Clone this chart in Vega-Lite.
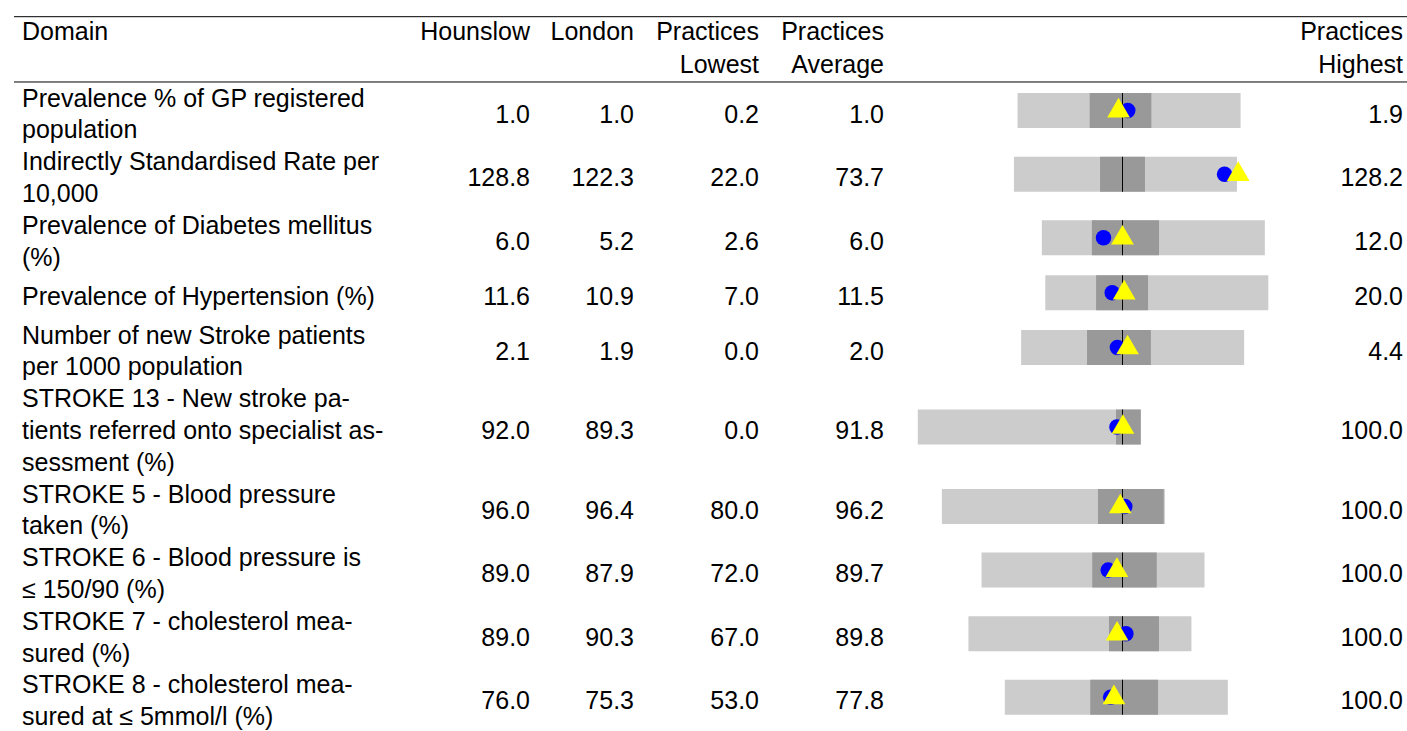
{
  "$schema": "https://vega.github.io/schema/vega-lite/v6.json",
  "padding": {"left": 13, "top": 0, "right": 0, "bottom": 0},
  "spacing": 0,
  "bounds": "flush",
  "config": {
    "view": {"stroke": null},
    "text": {"font": "Liberation Sans", "fontSize": 25, "fill": "black", "baseline": "alphabetic", "lineHeight": 32.5}
  },
  "data": {"values": [
    {"id": 1, "domain": ["Prevalence % of GP registered", "population"], "hounslow": 0.97, "london": 1.04, "low": 0.2, "avg": 1.0, "high": 1.9, "q1": 0.75, "q3": 1.22},
    {"id": 2, "domain": ["Indirectly Standardised Rate per", "10,000"], "hounslow": 128.8, "london": 122.3, "low": 22.0, "avg": 73.7, "high": 128.2, "q1": 63.0, "q3": 84.4},
    {"id": 3, "domain": ["Prevalence of Diabetes mellitus", "(%)"], "hounslow": 6.0, "london": 5.2, "low": 2.6, "avg": 6.0, "high": 12.0, "q1": 4.71, "q3": 7.54},
    {"id": 4, "domain": ["Prevalence of Hypertension (%)"], "hounslow": 11.6, "london": 10.9, "low": 7.0, "avg": 11.5, "high": 20.0, "q1": 9.96, "q3": 12.99},
    {"id": 5, "domain": ["Number of new Stroke patients", "per 1000 population"], "hounslow": 2.1, "london": 1.9, "low": 0.0, "avg": 2.0, "high": 4.4, "q1": 1.3, "q3": 2.56},
    {"id": 6, "domain": ["STROKE 13 - New stroke pa-", "tients referred onto specialist as-", "sessment (%)"], "hounslow": 92.0, "london": 89.3, "low": 0.0, "avg": 91.8, "high": 100.0, "q1": 88.9, "q3": 100.0},
    {"id": 7, "domain": ["STROKE 5 - Blood pressure", "taken (%)"], "hounslow": 96.0, "london": 96.4, "low": 80.0, "avg": 96.2, "high": 100.0, "q1": 94.0, "q3": 99.9},
    {"id": 8, "domain": ["STROKE 6 - Blood pressure is", "≤ 150/90 (%)"], "hounslow": 89.0, "london": 87.9, "low": 72.0, "avg": 89.7, "high": 100.0, "q1": 85.9, "q3": 94.0},
    {"id": 9, "domain": ["STROKE 7 - cholesterol mea-", "sured (%)"], "hounslow": 89.0, "london": 90.3, "low": 67.0, "avg": 89.8, "high": 100.0, "q1": 87.8, "q3": 95.2},
    {"id": 10, "domain": ["STROKE 8 - cholesterol mea-", "sured at ≤ 5mmol/l (%)"], "hounslow": 76.0, "london": 75.3, "low": 53.0, "avg": 77.8, "high": 100.0, "q1": 71.0, "q3": 85.3}
  ]},
  "transform": [
    {"flatten": ["domain"], "as": ["dline"]},
    {"window": [{"op": "row_number", "as": "line"}], "sort": [{"field": "id"}]},
    {"joinaggregate": [{"op": "count", "as": "n"}], "groupby": ["id"]},
    {"window": [{"op": "row_number", "as": "k"}], "groupby": ["id"], "sort": [{"field": "line"}]},
    {"calculate": "datum.n == 1 && datum.k == 1 ? 0.45 : 0", "as": "extra"},
    {"window": [{"op": "sum", "field": "extra", "as": "cum"}], "sort": [{"field": "line"}], "frame": [null, 0]},
    {"calculate": "datum.line + datum.cum - datum.extra / 2", "as": "pos"},
    {"joinaggregate": [{"op": "mean", "field": "pos", "as": "mid"}], "groupby": ["id"]},
    {"calculate": "(datum.low - datum.avg) / (datum.high - datum.low)", "as": "ln"},
    {"calculate": "(datum.high - datum.avg) / (datum.high - datum.low)", "as": "hn"},
    {"calculate": "(datum.q1 - datum.avg) / (datum.high - datum.low)", "as": "q1n"},
    {"calculate": "(datum.q3 - datum.avg) / (datum.high - datum.low)", "as": "q3n"},
    {"calculate": "(datum.hounslow - datum.avg) / (datum.high - datum.low)", "as": "hon"},
    {"calculate": "(datum.london - datum.avg) / (datum.high - datum.low)", "as": "lon"}
  ],
  "hconcat": [
    {
      "width": 398, "height": 731,
      "layer": [
        {"data": {"values": [{}]}, "mark": {"type": "rule", "color": "black", "strokeWidth": 1}, "encoding": {"y": {"datum": -1.83, "type": "quantitative", "scale": {"domain": [-2.355, 20.632], "reverse": true, "nice": false, "zero": false}, "axis": null}}},
        {"data": {"values": [{}]}, "mark": {"type": "rule", "color": "black", "strokeWidth": 1}, "encoding": {"y": {"datum": 0.223, "type": "quantitative", "axis": null}}},
        {"data": {"values": [{}]}, "mark": {"type": "text", "text": "Domain", "align": "left", "x": 0, "dx": 8}, "encoding": {"y": {"datum": -1.097, "type": "quantitative", "axis": null}}},
        {"mark": {"type": "text", "align": "left", "x": 0, "dx": 8}, "encoding": {"y": {"field": "pos", "type": "quantitative", "axis": null}, "text": {"field": "dline", "type": "nominal"}}}
      ]
    },
    {
      "width": 118, "height": 731,
      "layer": [
        {"data": {"values": [{}]}, "mark": {"type": "rule", "color": "black", "strokeWidth": 1}, "encoding": {"y": {"datum": -1.83, "type": "quantitative", "scale": {"domain": [-2.355, 20.632], "reverse": true, "nice": false, "zero": false}, "axis": null}}},
        {"data": {"values": [{}]}, "mark": {"type": "rule", "color": "black", "strokeWidth": 1}, "encoding": {"y": {"datum": 0.223, "type": "quantitative", "axis": null}}},
        {"data": {"values": [{}]}, "mark": {"type": "text", "text": "Hounslow", "align": "right", "x": "width"}, "encoding": {"y": {"datum": -1.097, "type": "quantitative", "axis": null}}},
        {"transform": [{"filter": "datum.k == 1"}], "mark": {"type": "text", "align": "right", "x": "width"}, "encoding": {"y": {"field": "mid", "type": "quantitative", "axis": null}, "text": {"field": "hounslow", "type": "quantitative", "format": ".1f"}}}
      ]
    },
    {
      "width": 104, "height": 731,
      "layer": [
        {"data": {"values": [{}]}, "mark": {"type": "rule", "color": "black", "strokeWidth": 1}, "encoding": {"y": {"datum": -1.83, "type": "quantitative", "scale": {"domain": [-2.355, 20.632], "reverse": true, "nice": false, "zero": false}, "axis": null}}},
        {"data": {"values": [{}]}, "mark": {"type": "rule", "color": "black", "strokeWidth": 1}, "encoding": {"y": {"datum": 0.223, "type": "quantitative", "axis": null}}},
        {"data": {"values": [{}]}, "mark": {"type": "text", "text": "London", "align": "right", "x": "width"}, "encoding": {"y": {"datum": -1.097, "type": "quantitative", "axis": null}}},
        {"transform": [{"filter": "datum.k == 1"}], "mark": {"type": "text", "align": "right", "x": "width"}, "encoding": {"y": {"field": "mid", "type": "quantitative", "axis": null}, "text": {"field": "london", "type": "quantitative", "format": ".1f"}}}
      ]
    },
    {
      "width": 125, "height": 731,
      "layer": [
        {"data": {"values": [{}]}, "mark": {"type": "rule", "color": "black", "strokeWidth": 1}, "encoding": {"y": {"datum": -1.83, "type": "quantitative", "scale": {"domain": [-2.355, 20.632], "reverse": true, "nice": false, "zero": false}, "axis": null}}},
        {"data": {"values": [{}]}, "mark": {"type": "rule", "color": "black", "strokeWidth": 1}, "encoding": {"y": {"datum": 0.223, "type": "quantitative", "axis": null}}},
        {"data": {"values": [{}]}, "mark": {"type": "text", "text": ["Practices", "Lowest"], "align": "right", "x": "width"}, "encoding": {"y": {"datum": -1.097, "type": "quantitative", "axis": null}}},
        {"transform": [{"filter": "datum.k == 1"}], "mark": {"type": "text", "align": "right", "x": "width"}, "encoding": {"y": {"field": "mid", "type": "quantitative", "axis": null}, "text": {"field": "low", "type": "quantitative", "format": ".1f"}}}
      ]
    },
    {
      "width": 125, "height": 731,
      "layer": [
        {"data": {"values": [{}]}, "mark": {"type": "rule", "color": "black", "strokeWidth": 1}, "encoding": {"y": {"datum": -1.83, "type": "quantitative", "scale": {"domain": [-2.355, 20.632], "reverse": true, "nice": false, "zero": false}, "axis": null}}},
        {"data": {"values": [{}]}, "mark": {"type": "rule", "color": "black", "strokeWidth": 1}, "encoding": {"y": {"datum": 0.223, "type": "quantitative", "axis": null}}},
        {"data": {"values": [{}]}, "mark": {"type": "text", "text": ["Practices", "Average"], "align": "right", "x": "width"}, "encoding": {"y": {"datum": -1.097, "type": "quantitative", "axis": null}}},
        {"transform": [{"filter": "datum.k == 1"}], "mark": {"type": "text", "align": "right", "x": "width"}, "encoding": {"y": {"field": "mid", "type": "quantitative", "axis": null}, "text": {"field": "avg", "type": "quantitative", "format": ".1f"}}}
      ]
    },
    {
      "width": 407, "height": 731,
      "layer": [
        {"data": {"values": [{}]}, "mark": {"type": "rule", "color": "black", "strokeWidth": 1}, "encoding": {"y": {"datum": -1.83, "type": "quantitative", "scale": {"domain": [-2.355, 20.632], "reverse": true, "nice": false, "zero": false}, "axis": null}}},
        {"data": {"values": [{}]}, "mark": {"type": "rule", "color": "black", "strokeWidth": 1}, "encoding": {"y": {"datum": 0.223, "type": "quantitative", "axis": null}}},
        {"transform": [{"filter": "datum.k == 1"}], "mark": {"type": "rule", "color": "#cccccc", "strokeWidth": 35, "strokeCap": "butt", "yOffset": -12}, "encoding": {"x": {"field": "ln", "type": "quantitative", "scale": {"domain": [-1.0695, 0.7556], "nice": false, "zero": false}, "axis": null}, "x2": {"field": "hn"}, "y": {"field": "mid", "type": "quantitative", "axis": null}}},
        {"transform": [{"filter": "datum.k == 1"}], "mark": {"type": "rule", "color": "#999999", "strokeWidth": 35, "strokeCap": "butt", "yOffset": -12}, "encoding": {"x": {"field": "q1n", "type": "quantitative", "axis": null}, "x2": {"field": "q3n"}, "y": {"field": "mid", "type": "quantitative", "axis": null}}},
        {"transform": [{"filter": "datum.k == 1"}], "mark": {"type": "tick", "orient": "vertical", "color": "black", "size": 35, "thickness": 1, "opacity": 1, "yOffset": -12}, "encoding": {"x": {"datum": 0, "type": "quantitative", "axis": null}, "y": {"field": "mid", "type": "quantitative", "axis": null}}},
        {"transform": [{"filter": "datum.k == 1"}], "mark": {"type": "point", "shape": "circle", "filled": true, "color": "#0000ff", "opacity": 1, "size": 240, "yOffset": -12}, "encoding": {"x": {"field": "lon", "type": "quantitative", "axis": null}, "y": {"field": "mid", "type": "quantitative", "axis": null}}},
        {"transform": [{"filter": "datum.k == 1"}], "mark": {"type": "point", "shape": "triangle-up", "filled": true, "color": "#ffff00", "opacity": 1, "size": 515, "yOffset": -15}, "encoding": {"x": {"field": "hon", "type": "quantitative", "axis": null}, "y": {"field": "mid", "type": "quantitative", "axis": null}}}
      ]
    },
    {
      "width": 117, "height": 731,
      "layer": [
        {"data": {"values": [{}]}, "mark": {"type": "rule", "color": "black", "strokeWidth": 1}, "encoding": {"y": {"datum": -1.83, "type": "quantitative", "scale": {"domain": [-2.355, 20.632], "reverse": true, "nice": false, "zero": false}, "axis": null}}},
        {"data": {"values": [{}]}, "mark": {"type": "rule", "color": "black", "strokeWidth": 1}, "encoding": {"y": {"datum": 0.223, "type": "quantitative", "axis": null}}},
        {"data": {"values": [{}]}, "mark": {"type": "text", "text": ["Practices", "Highest"], "align": "right", "x": "width", "dx": -5}, "encoding": {"y": {"datum": -1.097, "type": "quantitative", "axis": null}}},
        {"transform": [{"filter": "datum.k == 1"}], "mark": {"type": "text", "align": "right", "x": "width", "dx": -5}, "encoding": {"y": {"field": "mid", "type": "quantitative", "axis": null}, "text": {"field": "high", "type": "quantitative", "format": ".1f"}}}
      ]
    }
  ]
}
